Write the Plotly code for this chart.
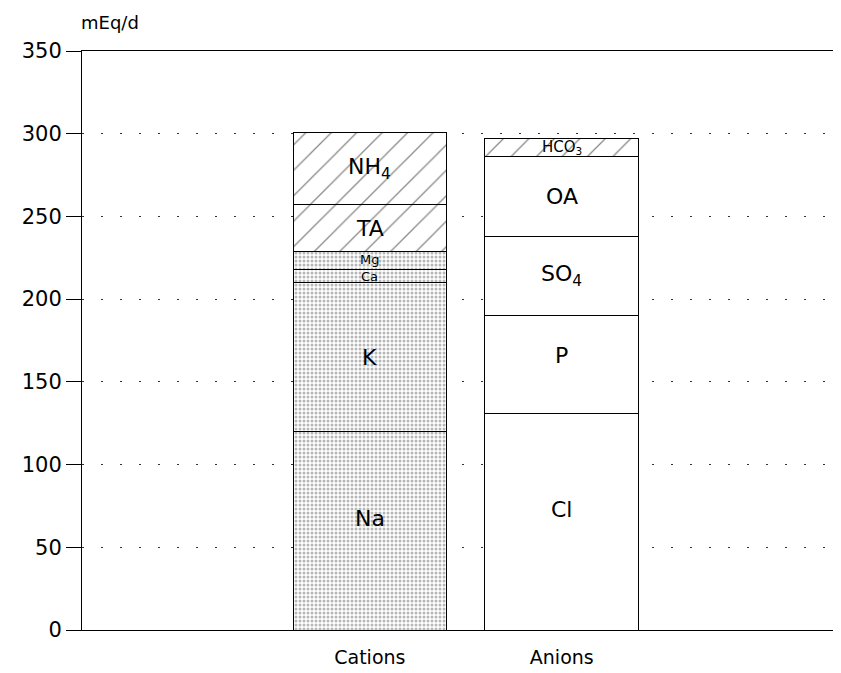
import plotly.graph_objects as go

categories = ["Cations", "Anions"]
cation_names = ["Na", "K", "Ca", "Mg", "TA", "NH<sub>4</sub>"]
cation_values = [120, 90, 8, 11, 28, 44]
cation_fill = ["dot", "dot", "dot", "dot", "hatch", "hatch"]
anion_names = ["Cl", "P", "SO<sub>4</sub>", "OA", "HCO<sub>3</sub>"]
anion_values = [131, 59, 48, 48, 11]
anion_fill = ["none", "none", "none", "none", "hatch"]
label_sizes = {"Ca": 13, "Mg": 13, "HCO<sub>3</sub>": 15}
label_shift = {"Na": 12, "Cl": 12, "P": 9, "Mg": 1, "Ca": -1}
y_ticks = [0, 50, 100, 150, 200, 250, 300, 350]

FONT = "DejaVu Sans, Liberation Sans, Arial, sans-serif"

def pattern(kind):
    if kind == "dot":
        return dict(shape=".", fgcolor="#707070", bgcolor="white", size=4, solidity=0.45)
    if kind == "hatch":
        return dict(shape="/", fgcolor="#111", bgcolor="white", size=18, solidity=0.07)
    return dict(shape="")

fig = go.Figure()
annotations = []
for cat, names, vals, fills in [
    (categories[0], cation_names, cation_values, cation_fill),
    (categories[1], anion_names, anion_values, anion_fill),
]:
    base = 0
    for n, v, f in zip(names, vals, fills):
        fig.add_trace(go.Bar(
            x=[cat], y=[v], name=n, width=0.8,
            marker=dict(color="white", line=dict(color="black", width=1), pattern=pattern(f)),
            showlegend=False, hoverinfo="skip",
        ))
        annotations.append(dict(
            x=cat, y=base + v / 2, text=n, showarrow=False,
            yshift=label_shift.get(n, 0),
            font=dict(family=FONT, size=label_sizes.get(n, 22), color="black"),
        ))
        base += v

annotations.append(dict(
    xref="paper", yref="paper", x=0.0, y=1.0, yshift=29, xshift=-3,
    xanchor="left", yanchor="middle",
    text="mEq/d", showarrow=False, font=dict(family=FONT, size=18, color="black"),
))

fig.update_layout(
    barmode="stack",
    width=833, height=665,
    margin=dict(l=74, r=1, t=43, b=43),
    paper_bgcolor="white", plot_bgcolor="white",
    font=dict(family=FONT, color="black"),
    annotations=annotations,
    xaxis=dict(
        range=[-1.5, 2.45], showline=True, linecolor="black", linewidth=1, mirror=True,
        showgrid=False, ticks="", tickfont=dict(size=19), ticklabelstandoff=10,
        fixedrange=True,
    ),
    yaxis=dict(
        range=[0, 350], tickvals=y_ticks, showline=True, linecolor="black", linewidth=1,
        ticks="outside", ticklen=15, tickcolor="black", tickfont=dict(size=21),
        showgrid=True, gridcolor="#333", gridwidth=1, griddash="2px,17px",
        zeroline=False,
    ),
)

fig.write_html("out.html")
